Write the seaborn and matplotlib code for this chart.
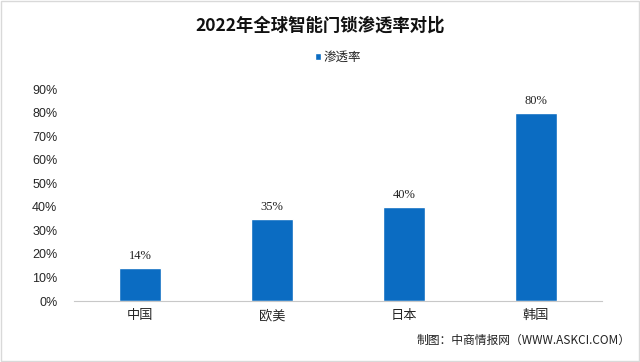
import pandas as pd
import matplotlib.pyplot as plt
import seaborn as sns

# 数据
regions = ["中国", "欧美", "日本", "韩国"]
rates = [14, 35, 40, 80]
y_ticks = [0, 10, 20, 30, 40, 50, 60, 70, 80, 90]

df = pd.DataFrame({"地区": regions, "渗透率": rates})

sns.set_theme(style="white")
plt.rcParams['font.family'] = ['Noto Sans CJK SC', 'DejaVu Sans']

fig = plt.figure(figsize=(6.4, 3.62), dpi=100)
ax = fig.add_axes([0.1156, 0.1685, 0.825, 0.5855])

bar_color = "#0b6cc2"
sns.barplot(x="地区", y="渗透率", data=df, color=bar_color, width=0.32,
            saturation=1, ax=ax, label="渗透率")

for i, v in enumerate(rates):
    ax.text(i, v + 2.5, f"{v}%", ha="center", va="bottom", fontsize=9,
            family=["Liberation Serif", "DejaVu Serif"], color="#222222")

ax.set_ylim(0, 90)
ax.set_yticks(y_ticks)
ax.set_yticklabels([f"{t}%" for t in y_ticks], fontsize=9,
                   family=["Liberation Sans Narrow", "Liberation Sans", "DejaVu Sans"])
ax.set_xlim(-0.5, 3.5)
ax.set_xlabel("")
ax.set_ylabel("")
ax.tick_params(axis="x", labelsize=9.5, length=0, pad=6)
ax.tick_params(axis="y", length=0, pad=12)
for s in ["top", "right", "left"]:
    ax.spines[s].set_visible(False)
ax.spines["bottom"].set_color("#c8c8c8")
ax.spines["bottom"].set_linewidth(0.8)

ax.legend(loc="center", bbox_to_anchor=(0.5, 1.151), frameon=False,
          fontsize=9, handlelength=0.5, handleheight=0.5, handletextpad=0.2)

fig.text(0.5, 0.93, "2022年全球智能门锁渗透率对比", ha="center", va="center",
         fontsize=12.5, fontweight="bold", color="#111111")
fig.text(0.985, 0.06, "制图：中商情报网（WWW.ASKCI.COM）", ha="right", va="center",
         fontsize=8.5, color="#222222")

border = plt.Rectangle((0.002, 0.003), 0.996, 0.994, transform=fig.transFigure,
                       fill=False, edgecolor="#d9d9d9", linewidth=1)
fig.patches.append(border)

fig.savefig("out.png", dpi=100)
